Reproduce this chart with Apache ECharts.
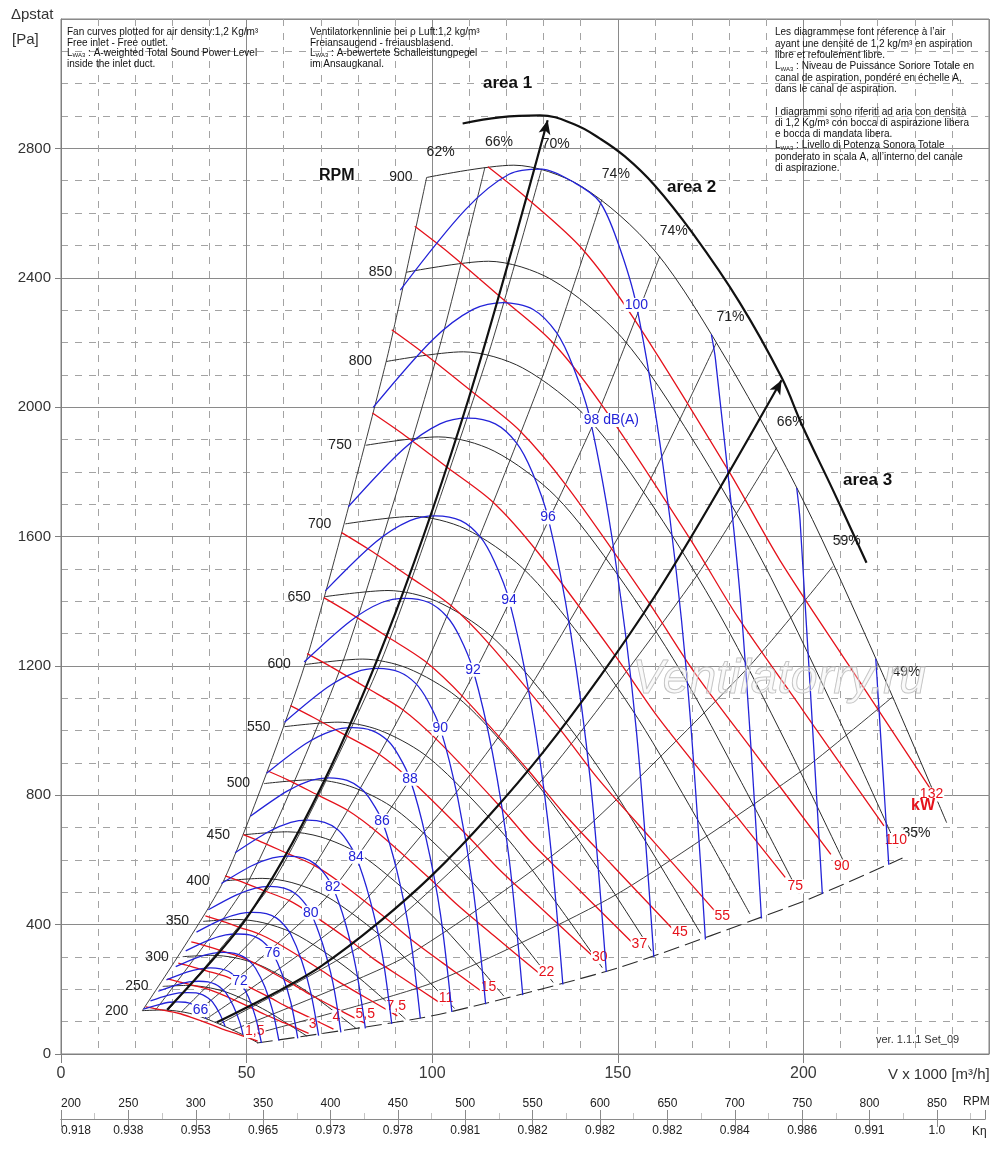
<!DOCTYPE html>
<html><head><meta charset="utf-8">
<script src="https://cdn.jsdelivr.net/npm/echarts@6/dist/echarts.min.js"></script>
<style>html,body{margin:0;padding:0;background:#fff}#c{width:1000px;height:1160px}</style>
</head><body><div id="c"></div>
<script>
const FONT = "'Liberation Sans', Arial, sans-serif";
const NARROW = "'Liberation Sans Narrow', 'Liberation Sans', Arial, sans-serif";

// ---------- DATA (V x 1000 m3/h, pstat Pa) ----------
const rpmValues = [200,250,300,350,400,450,500,550,600,650,700,750,800,850,900];
const rpmCurves = [
 [[21.9,134],[27.1,136],[31.1,133],[35.6,123],[40.0,105],[44.4,84],[48.9,60],[53.0,35]],
 [[27.4,209],[33.9,212],[38.9,207],[44.4,192],[50.0,165],[55.6,132],[61.1,93],[66.3,55]],
 [[32.8,301],[40.7,305],[46.7,298],[53.3,276],[60.0,237],[66.7,190],[73.3,134],[79.5,79]],
 [[38.3,410],[47.4,416],[54.4,406],[62.2,376],[70.0,323],[77.8,259],[85.6,183],[92.8,108]],
 [[43.8,535],[54.2,543],[62.2,530],[71.1,490],[80.0,421],[88.9,338],[97.8,239],[106.0,141]],
 [[49.3,678],[61.0,687],[70.0,671],[80.0,621],[90.0,533],[100.0,428],[110.0,303],[119.3,179]],
 [[54.7,836],[67.8,848],[77.8,828],[88.9,766],[100.0,658],[111.1,528],[122.2,373],[132.6,221]],
 [[60.2,1012],[74.6,1026],[85.6,1002],[97.8,927],[110.0,797],[122.2,639],[134.4,452],[145.8,267]],
 [[65.7,1204],[81.3,1221],[93.3,1193],[106.7,1104],[120.0,948],[133.3,760],[146.7,538],[159.1,318]],
 [[71.1,1414],[88.1,1433],[101.1,1400],[115.6,1295],[130.0,1113],[144.4,892],[158.9,631],[172.3,373]],
 [[76.6,1639],[94.9,1662],[108.9,1624],[124.4,1502],[140.0,1290],[155.6,1034],[171.1,732],[185.6,433]],
 [[82.1,1882],[101.7,1908],[116.7,1864],[133.3,1724],[150.0,1481],[166.7,1188],[183.3,840],[198.8,497]],
 [[87.6,2141],[108.4,2171],[124.4,2121],[142.2,1962],[160.0,1685],[177.8,1351],[195.6,956],[212.1,565]],
 [[93.0,2417],[115.2,2451],[132.2,2394],[151.1,2215],[170.0,1903],[188.9,1525],[207.8,1079],[225.3,638]],
 [[98.5,2710],[122.0,2748],[140.0,2684],[160.0,2483],[180.0,2133],[200.0,1710],[220.0,1210],[238.6,715]]
];

const effLabels = ['62%','66%','70%','74%','74%','71%','66%','59%','49%'];
const effLines = [
 [[21.9,134],[43.8,535],[65.7,1204],[87.6,2141],[98.5,2710]],
 [[25.4,135],[50.8,541],[76.1,1218],[101.5,2166],[114.2,2741]],
 [[28.8,135],[57.6,541],[86.3,1216],[115.1,2163],[129.5,2737]],
 [[32.4,130],[64.8,522],[97.1,1174],[129.5,2088],[145.7,2642]],
 [[35.8,122],[71.7,487],[107.5,1096],[143.4,1948],[161.3,2466]],
 [[39.2,109],[78.5,435],[117.7,978],[157.0,1738],[176.6,2200]],
 [[42.8,93],[85.7,370],[128.5,833],[171.4,1481],[192.8,1875]],
 [[46.2,74],[92.4,298],[138.6,670],[184.8,1191],[207.9,1507]],
 [[49.8,55],[99.6,218],[149.3,491],[199.1,872],[224.0,1104]]
];
const eff35Label = '35%';
const eff35Line = [[52.8,34],[100,118],[150,266],[200,472],[226.7,606]];

const area1Line = [[28.6,137],[50,420],[70,823],[90,1361],[110,2033],[131.1,2887]];
const area23Line = [[42,98],[70,271],[100,553],[130,935],[160,1416],[194.1,2083]];
const areaArc = [[108.2,2877],[118.2,2896],[129,2902],[138.4,2874],[145.1,2831],[151.9,2775],[159.9,2686],[170.2,2537],[182.8,2324],[194.1,2092],[199.8,1940],[207.9,1745],[217,1519]];

const soundLevels = [66,68,70,72,74,76,78,80,82,84,86,88,90,92,94,96,98,100,102,104,106];
const soundLabeled = [66,72,76,80,82,84,86,88,90,92,94,96,98,100];
const soundCurves = [
 [[22.2,139],[26.4,153],[29.2,160],[31.4,161],[33.5,160],[35.2,155],[36.3,148],[37.6,136],[39.2,109]],
 [[24.1,164],[28.7,181],[31.8,189],[34.1,190],[36.4,189],[38.2,183],[39.5,174],[40.8,161],[42.7,126],[44.2,86]],
 [[26.2,194],[31.2,214],[34.5,223],[37.1,225],[39.6,223],[41.5,216],[42.9,206],[44.4,190],[46.4,149],[48.2,97],[49.0,61]],
 [[28.4,229],[33.9,253],[37.5,263],[40.3,266],[43.0,263],[45.2,255],[46.6,243],[48.2,224],[50.5,176],[52.4,114],[54.0,34]],
 [[30.9,270],[36.8,299],[40.8,311],[43.8,314],[46.8,311],[49.1,301],[50.7,288],[52.4,265],[54.9,208],[57.0,135],[58.7,41]],
 [[33.6,319],[40.0,353],[44.4,368],[47.6,371],[50.8,368],[53.4,356],[55.1,340],[57.0,313],[59.6,246],[61.9,160],[63.8,48]],
 [[36.5,377],[43.5,417],[48.2,434],[51.7,438],[55.3,434],[58.0,421],[59.9,401],[61.9,370],[64.8,290],[67.3,189],[69.4,57]],
 [[39.7,446],[47.3,492],[52.4,513],[56.2,518],[60.1,513],[63.0,497],[65.1,474],[67.3,437],[70.4,343],[73.2,223],[75.4,67]],
 [[43.2,527],[51.4,582],[57.0,606],[61.1,612],[65.3,606],[68.5,587],[70.8,560],[73.2,516],[76.6,405],[79.5,263],[82.0,79]],
 [[46.9,622],[55.9,687],[61.9,716],[66.4,723],[71.0,716],[74.5,694],[76.9,662],[79.5,610],[83.2,479],[86.5,311],[89.1,93]],
 [[51.0,735],[60.8,812],[67.3,846],[72.2,854],[77.1,846],[80.9,820],[83.6,782],[86.5,721],[90.5,566],[94.0,368],[96.8,110]],
 [[55.4,868],[66.0,960],[73.2,1000],[78.5,1009],[83.8,1000],[88.0,969],[90.9,924],[94.0,851],[98.3,669],[102.2,434],[105.3,130]],
 [[60.2,1026],[71.8,1134],[79.5,1181],[85.3,1192],[91.1,1181],[95.6,1145],[98.8,1092],[102.2,1006],[106.9,790],[111.0,513],[114.4,154]],
 [[65.5,1212],[78.0,1339],[86.4,1396],[92.7,1409],[99.1,1396],[104.0,1352],[107.4,1290],[111.0,1188],[116.2,933],[120.7,606],[124.4,182]],
 [[71.2,1432],[84.8,1583],[94.0,1649],[100.8,1664],[107.7,1649],[113.0,1598],[116.7,1524],[120.7,1404],[126.3,1103],[131.2,716],[135.2,215]],
 [[77.4,1692],[92.2,1870],[102.1,1948],[109.6,1966],[117.0,1948],[122.8,1888],[126.9,1800],[131.2,1659],[137.3,1303],[142.6,846],[146.9,254]],
 [[84.1,1999],[100.2,2209],[111.0,2302],[119.1,2323],[127.2,2302],[133.5,2230],[137.9,2127],[142.6,1960],[149.2,1539],[155.0,1000],[159.7,300]],
 [[91.4,2362],[108.9,2610],[120.7,2720],[129.5,2736],[138.3,2694],[145.1,2635],[149.9,2513],[155.0,2316],[162.2,1818],[168.5,1181],[173.6,354]],
 [[175.2,2225],[176.3,2149],[183.1,1396],[188.7,419]],
 [[198.2,1750],[199.1,1650],[205.1,495]],
 [[219.5,1222],[223.0,585]]
];

const powerLabels = ['132','110','90','75','55','45','37','30','22','15','11','7,5','5,5','4','3','1,5'];
const powerCurves = [
 [[115.0,2743],[125.6,2645],[140.5,2488],[155.0,2262],[180.1,1798],[193.6,1528],[212.4,1199],[235.6,796]],
 [[95.3,2559],[104.7,2475],[118.2,2342],[132.2,2203],[145.9,2003],[169.5,1592],[182.2,1353],[199.9,1062],[221.7,705]],
 [[89.1,2239],[97.9,2165],[110.6,2049],[123.6,1927],[136.5,1752],[158.5,1393],[170.4,1184],[187.0,929],[207.4,617]],
 [[83.9,1982],[92.1,1917],[104.0,1814],[116.4,1706],[128.4,1552],[149.2,1233],[160.4,1048],[175.9,823],[195.1,546]],
 [[75.6,1612],[83.1,1559],[93.8,1476],[104.9,1388],[115.8,1262],[134.5,1003],[144.6,852],[158.7,669],[176.0,444]],
 [[70.8,1411],[77.7,1364],[87.8,1291],[98.1,1214],[108.3,1104],[125.8,878],[135.3,746],[148.4,585],[164.6,389]],
 [[66.3,1238],[72.8,1197],[82.2,1133],[91.9,1066],[101.5,969],[117.9,770],[126.7,654],[139.0,514],[154.2,341]],
 [[61.8,1077],[67.9,1041],[76.7,985],[85.7,927],[94.6,843],[109.9,670],[118.2,569],[129.7,447],[143.8,297]],
 [[55.7,875],[61.2,847],[69.1,801],[77.3,753],[85.3,685],[99.1,545],[106.6,463],[116.9,363],[129.7,241]],
 [[49.1,678],[53.9,656],[60.8,621],[68.1,584],[75.1,531],[87.3,422],[93.8,359],[102.9,281],[114.1,187]],
 [[44.2,551],[48.6,533],[54.9,504],[61.4,475],[67.7,431],[78.7,343],[84.6,291],[92.8,229],[102.9,152]],
 [[38.9,427],[42.8,413],[48.3,391],[54.0,368],[59.6,334],[69.2,266],[74.4,226],[81.7,177],[90.6,118]],
 [[35.1,347],[38.6,336],[43.5,318],[48.7,299],[53.7,272],[62.4,216],[67.1,184],[73.6,144],[81.7,96]],
 [[31.6,281],[34.7,272],[39.2,257],[43.8,242],[48.3,220],[56.2,175],[60.4,149],[66.2,117],[73.4,77]],
 [[28.7,232],[31.5,224],[35.6,212],[39.8,200],[43.9,181],[51.0,144],[54.8,123],[60.2,96],[66.7,64]],
 [[22.8,146],[25.0,141],[28.2,134],[31.6,126],[34.9,114],[40.5,91],[43.5,77],[47.8,61],[53.0,40]]
];

const rpmScaleTicks = [200,250,300,350,400,450,500,550,600,650,700,750,800,850];
const kEtaLabels = ['0.918','0.938','0.953','0.965','0.973','0.978','0.981','0.982','0.982','0.982','0.984','0.986','0.991','1.0'];

// ---------- STYLE ----------
const BLUE = '#2323d8', RED = '#e5121b', BLK = '#2a2a2a';
const powerLabelOffsets = [[-4,-2],[12,14],[11,12],[10,9],[8,6],[8,4],[6,0],[5,-1],[4,-4],[4,-6],[3,-7],[-1,-10],[1,-9],[3,-12],[4,-9],[-3,-10]];

function baseLine(color, width, z) {
  return {type:'line', xAxisIndex:0, yAxisIndex:0, smooth:0.3, symbol:'circle', symbolSize:0.1,
    showSymbol:true, silent:true, animation:false, z:z, clip:true,
    lineStyle:{color:color, width:width}, itemStyle:{color:color},
    label:{show:false}, emphasis:{disabled:true}};
}
const series = [];

effLines.forEach((pts, i) => {
  const s = baseLine(BLK, 0.9, 2);
  s.smooth = 0.2;
  s.data = pts.map((p, j) => j === pts.length - 1 ? {value:p, label:{show:true, formatter:effLabels[i], position:'inside',
    offset:[14,-25], color:'#222', fontSize:14, fontFamily:FONT}} : p);
  series.push(s);
});
{
  const s = baseLine(BLK, 1.1, 2);
  s.smooth = 0.2;
  s.lineStyle.type = [16,6];
  s.data = eff35Line.map((p, j) => j === eff35Line.length - 1 ? {value:p, label:{show:true, formatter:eff35Label, position:'inside',
    offset:[14,-25], color:'#222', fontSize:14, fontFamily:FONT}} : p);
  series.push(s);
}
rpmCurves.forEach((pts, i) => {
  const s = baseLine(BLK, 1, 2);
  s.data = pts.map((p, j) => j === 0 ? {value:p, label:{show:true, formatter:String(rpmValues[i]), position:'left',
    distance:14, color:'#222', fontSize:14, fontFamily:FONT}} : p);
  series.push(s);
});
powerCurves.forEach((pts, i) => {
  const s = baseLine(RED, 1.3, 3);
  s.data = pts.map((p, j) => j === pts.length - 1 ? {value:p, label:{show:true, formatter:powerLabels[i], position:'inside',
    offset:powerLabelOffsets[i], color:RED, fontSize:14, fontFamily:FONT, backgroundColor:'#fff', padding:[0,1]}} : p);
  series.push(s);
});
soundCurves.forEach((pts, i) => {
  const lvl = soundLevels[i];
  const s = baseLine(BLUE, 1.3, 4);
  const show = soundLabeled.indexOf(lvl) >= 0;
  s.data = pts.map((p, j) => (show && j === 7) ? {value:p, label:{show:true, formatter: lvl === 98 ? '98 dB(A)' : String(lvl),
    position:'inside', offset: lvl === 98 ? [21,0] : [0,0], color:BLUE, fontSize:14, fontFamily:FONT,
    backgroundColor:'#fff', padding:[0,1]}} : p);
  series.push(s);
});
{
  const s1 = baseLine('#111', 2.2, 5);
  s1.data = area1Line.map((p, j) => j === area1Line.length - 1 ? {value:p, symbol:'arrow', symbolSize:[9,14], symbolRotate:-13, itemStyle:{color:'#111'}} : p);
  series.push(s1);
  const s2 = baseLine('#111', 2.2, 5);
  s2.data = area23Line.map((p, j) => j === area23Line.length - 1 ? {value:p, symbol:'arrow', symbolSize:[9,14], symbolRotate:-28, itemStyle:{color:'#111'}} : p);
  series.push(s2);
  const s3 = baseLine('#111', 2.2, 5);
  s3.smooth = 0.4;
  s3.data = areaArc.slice();
  series.push(s3);
}
// empty series registering the lower RPM / K-eta scale grid
series.push({type:'line', xAxisIndex:1, yAxisIndex:1, data:[], silent:true});

const txt1 = 'Fan curves plotted for air density:1,2 Kg/m³\nFree inlet - Free outlet.\nL{s|WA3} : A-weighted Total Sound Power Level\ninside the inlet duct.';
const txt2 = 'Ventilatorkennlinie bei ρ Luft:1,2 kg/m³\nFreiansaugend - freiausblasend.\nL{s|WA3} : A-bewertete Schalleistungpegel\nim Ansaugkanal.';
const txt3 = 'Les diagrammese font réference à l’air\nayant une densité de 1,2 kg/m³ en aspiration\nlibre et refoulement libre.\nL{s|WA3} : Niveau de Puissance Sonore Totale en\ncanal de aspiration, pondéré en échelle A,\ndans le canal de aspiration.\n\nI diagrammi sono riferiti ad aria con densità\ndi 1,2 Kg/m³ con bocca di aspirazione libera\ne bocca di mandata libera.\nL{s|WA3} : Livello di Potenza Sonora Totale\nponderato in scala A, all’interno del canale\ndi aspirazione.';
const subRich = {s:{fontSize:6, fontFamily:FONT, fill:'#111', verticalAlign:'bottom'}};

function gText(left, top, text, size, extra) {
  return Object.assign({type:'text', left:left, top:top, z:100, silent:true,
    style:Object.assign({text:text, fontSize:size, fontFamily:FONT, fill:'#222'}, extra || {})});
}

const option = {
  animation:false,
  backgroundColor:'#fff',
  grid:[
    {left:61, right:11, top:19, bottom:106, show:true, borderColor:'#808080', borderWidth:1, backgroundColor:'transparent'},
    {left:61, right:15, top:1114, height:5, show:false}
  ],
  xAxis:[
    {type:'value', gridIndex:0, min:0, max:250, interval:50,
     axisLine:{show:true, lineStyle:{color:'#808080'}},
     axisTick:{show:true, length:9, lineStyle:{color:'#808080'}},
     axisLabel:{fontSize:16, color:'#3a3a3a', margin:12, fontFamily:FONT, showMaxLabel:false, formatter:(v) => String(v)},
     splitLine:{show:true, lineStyle:{color:'#8a8a8a', width:1}},
     minorTick:{show:false, splitNumber:5},
     minorSplitLine:{show:true, lineStyle:{color:'#a3a3a3', width:1, type:[7,7]}}},
    {type:'value', gridIndex:1, min:200, max:885.7, interval:50, position:'top',
     axisLine:{show:true, lineStyle:{color:'#8a8a8a'}},
     axisTick:{show:true, length:9, lineStyle:{color:'#8a8a8a'}},
     minorTick:{show:true, splitNumber:2, length:6, lineStyle:{color:'#c4c4c4'}},
     axisLabel:{fontSize:12, color:'#222', margin:4, fontFamily:NARROW, showMaxLabel:false, alignMinLabel:'left'},
     splitLine:{show:false}},
    {type:'value', gridIndex:1, min:200, max:885.7, interval:50, position:'bottom',
     axisLine:{show:true, lineStyle:{color:'#8a8a8a'}},
     axisTick:{show:true, length:8, lineStyle:{color:'#8a8a8a'}},
     axisLabel:{fontSize:12, color:'#222', margin:6, fontFamily:NARROW, showMaxLabel:false, alignMinLabel:'left',
       formatter:(v) => { const k = rpmScaleTicks.indexOf(Math.round(v)); return k >= 0 ? kEtaLabels[k] : ''; }},
     splitLine:{show:false}}
  ],
  yAxis:[
    {type:'value', gridIndex:0, min:0, max:3200, interval:400,
     axisLine:{show:true, lineStyle:{color:'#808080'}},
     axisTick:{show:true, length:6, lineStyle:{color:'#808080'}},
     axisLabel:{fontSize:15, color:'#333', margin:10, fontFamily:FONT, showMaxLabel:false, formatter:(v) => String(v)},
     splitLine:{show:true, lineStyle:{color:'#8a8a8a', width:1}},
     minorTick:{show:false, splitNumber:4},
     minorSplitLine:{show:true, lineStyle:{color:'#a3a3a3', width:1, type:[7,7]}}},
    {type:'value', gridIndex:1, show:false, min:0, max:1}
  ],
  graphic:[
    gText(11, 7, 'Δpstat', 15, {fill:'#333'}),
    gText(12, 32, '[Pa]', 15, {fill:'#333'}),
    gText(67, 27, txt1, 10, {fill:'#111', lineHeight:10.5, rich:subRich}),
    gText(310, 27, txt2, 10, {fill:'#111', lineHeight:10.5, rich:subRich}),
    gText(775, 27, txt3, 10, {fill:'#111', lineHeight:11.3, rich:subRich}),
    gText(483, 75, 'area 1', 17, {fontWeight:'bold', fill:'#111'}),
    gText(667, 179, 'area 2', 17, {fontWeight:'bold', fill:'#111'}),
    gText(843, 472, 'area 3', 17, {fontWeight:'bold', fill:'#111'}),
    gText(319, 168, 'RPM', 16, {fontWeight:'bold', fill:'#111'}),
    gText(911, 798, 'kW', 16, {fontWeight:'bold', fill:RED}),
    gText(632, 655, 'Ventilatorry.ru', 48, {fontStyle:'italic', fill:'rgba(240,240,240,0.35)', stroke:'#bdbdbd', lineWidth:1}),
    gText(876, 1034, 'ver. 1.1.1 Set_09', 11, {fill:'#333'}),
    gText(888, 1067, 'V x 1000 [m³/h]', 15, {fill:'#333'}),
    gText(963, 1096, 'RPM', 12, {fontFamily:NARROW, fill:'#222'}),
    gText(972, 1126, 'Kη', 12, {fontFamily:NARROW, fill:'#222'})
  ],
  series:series
};

const chart = echarts.init(document.getElementById('c'), null, {renderer:'canvas'});
chart.setOption(option);
</script></body></html>
